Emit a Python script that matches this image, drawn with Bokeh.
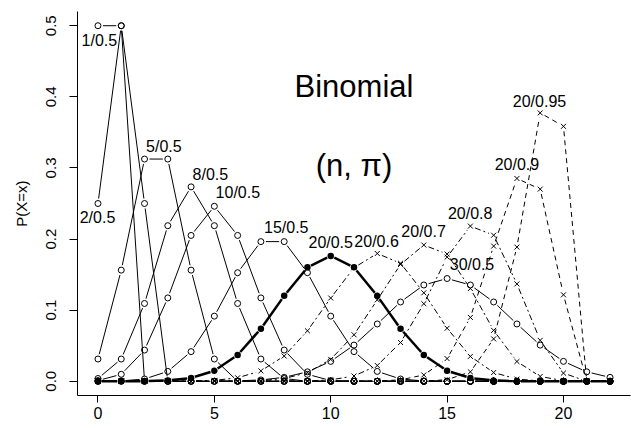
from bokeh.plotting import figure
from bokeh.models import Range1d, FixedTicker, PrintfTickFormatter, ColumnDataSource
from bokeh.core.properties import value
from bokeh.embed import file_html
from bokeh.resources import INLINE
import math

FONT = "Liberation Sans"

# ---------------- data ----------------
x_vals = [0, 1, 2, 3, 4, 5, 6, 7, 8, 9, 10, 11, 12, 13, 14, 15, 16, 17, 18, 19, 20, 21, 22]

b1_05 = [0.5, 0.5, 0, 0, 0, 0, 0, 0, 0, 0, 0, 0, 0, 0, 0, 0, 0, 0, 0, 0, 0, 0, 0]
b2_05 = [0.25, 0.5, 0.25, 0, 0, 0, 0, 0, 0, 0, 0, 0, 0, 0, 0, 0, 0, 0, 0, 0, 0, 0, 0]
b5_05 = [0.0313, 0.1563, 0.3125, 0.3125, 0.1563, 0.0313, 0, 0, 0, 0, 0, 0, 0, 0, 0, 0, 0, 0, 0, 0, 0, 0, 0]
b8_05 = [0.0039, 0.0313, 0.1094, 0.2188, 0.2734, 0.2188, 0.1094, 0.0313, 0.0039, 0, 0, 0, 0, 0, 0, 0, 0, 0, 0, 0, 0, 0, 0]
b10_05 = [0.0010, 0.0098, 0.0439, 0.1172, 0.2051, 0.2461, 0.2051, 0.1172, 0.0439, 0.0098, 0.0010, 0, 0, 0, 0, 0, 0, 0, 0, 0, 0, 0, 0]
b15_05 = [0.0000, 0.0005, 0.0032, 0.0139, 0.0417, 0.0916, 0.1527, 0.1964, 0.1964, 0.1527, 0.0916, 0.0417, 0.0139, 0.0032, 0.0005, 0.0000, 0, 0, 0, 0, 0, 0, 0]
b20_05 = [0, 0, 0.0002, 0.0011, 0.0046, 0.0148, 0.0370, 0.0739, 0.1201, 0.1602, 0.1762, 0.1602, 0.1201, 0.0739, 0.0370, 0.0148, 0.0046, 0.0011, 0.0002, 0, 0, 0, 0]
b30_05 = [0, 0, 0, 0, 0, 0.0001, 0.0006, 0.0019, 0.0055, 0.0133, 0.0280, 0.0509, 0.0806, 0.1115, 0.1354, 0.1445, 0.1354, 0.1115, 0.0806, 0.0509, 0.0280, 0.0133, 0.0055]
b20_06 = [0, 0, 0, 0, 0.0003, 0.0013, 0.0049, 0.0146, 0.0355, 0.0710, 0.1171, 0.1597, 0.1797, 0.1659, 0.1244, 0.0746, 0.0350, 0.0123, 0.0031, 0.0005, 0.0000, 0, 0]
b20_07 = [0, 0, 0, 0, 0, 0, 0.0002, 0.0010, 0.0039, 0.0120, 0.0308, 0.0654, 0.1144, 0.1643, 0.1916, 0.1789, 0.1304, 0.0716, 0.0278, 0.0068, 0.0008, 0, 0]
b20_08 = [0, 0, 0, 0, 0, 0, 0, 0, 0.0001, 0.0005, 0.0020, 0.0074, 0.0222, 0.0545, 0.1091, 0.1746, 0.2182, 0.2054, 0.1369, 0.0576, 0.0115, 0, 0]
b20_09 = [0, 0, 0, 0, 0, 0, 0, 0, 0, 0, 0, 0.0001, 0.0004, 0.0020, 0.0089, 0.0319, 0.0898, 0.1901, 0.2852, 0.2702, 0.1216, 0, 0]
b20_095 = [0, 0, 0, 0, 0, 0, 0, 0, 0, 0, 0, 0, 0, 0, 0.0003, 0.0022, 0.0133, 0.0596, 0.1887, 0.3774, 0.3585, 0, 0]

label_text = ["1/0.5", "2/0.5", "5/0.5", "8/0.5", "10/0.5", "15/0.5", "20/0.5",
              "20/0.6", "20/0.7", "20/0.8", "30/0.5", "20/0.9", "20/0.95"]
label_x = [0.06, -0.02, 2.83, 4.83, 6.01, 8.09, 10.0, 11.97, 13.99, 15.99, 16.07, 18.0, 18.97]
label_y = [0.479, 0.230, 0.330, 0.291, 0.2655, 0.216, 0.195, 0.197, 0.210, 0.236, 0.164, 0.305, 0.394]

x_ticks = [0, 5, 10, 15, 20]
y_ticks = [0.0, 0.1, 0.2, 0.3, 0.4, 0.5]

title_lines = ["Binomial", "(n, \u03c0)"]
title_x = [11.0, 11.0]
title_y = [0.414, 0.303]

# ---------------- figure ----------------
W, H = 631, 428
BL, BR, BT, BB = 77, 1, 11, 33
X0, X1 = -0.88, 22.88
Y0, Y1 = -0.02, 0.52

p = figure(width=W, height=H, output_backend="svg", toolbar_location=None,
           x_range=Range1d(X0, X1), y_range=Range1d(Y0, Y1),
           min_border_left=BL, min_border_right=BR, min_border_top=BT, min_border_bottom=BB)
p.grid.visible = False
p.outline_line_color = None
p.background_fill_color = "white"
p.border_fill_color = "white"

# pixels per data unit (used only to leave the small gaps that "type = b" leaves around points)
sx = (W - BL - BR) / (X1 - X0)
sy = (H - BT - BB) / (Y1 - Y0)


def gapped_segments(xs, ys, gap):
    x0s, y0s, x1s, y1s = [], [], [], []
    for i in range(len(xs) - 1):
        dxp = (xs[i + 1] - xs[i]) * sx
        dyp = (ys[i + 1] - ys[i]) * sy
        L = math.hypot(dxp, dyp)
        if L <= 2 * gap:
            continue
        f = gap / L
        x0s.append(xs[i] + (xs[i + 1] - xs[i]) * f)
        y0s.append(ys[i] + (ys[i + 1] - ys[i]) * f)
        x1s.append(xs[i + 1] - (xs[i + 1] - xs[i]) * f)
        y1s.append(ys[i + 1] - (ys[i + 1] - ys[i]) * f)
    return dict(x0=x0s, y0=y0s, x1=x1s, y1=y1s)


# series: (values, marker, dash)
thin_series = [
    (b1_05, "circle", "solid"),
    (b2_05, "circle", "solid"),
    (b5_05, "circle", "solid"),
    (b8_05, "circle", "solid"),
    (b10_05, "circle", "solid"),
    (b15_05, "circle", "solid"),
    (b30_05, "circle", "solid"),
    (b20_06, "x", "6 3 2 3"),
    (b20_07, "x", "6 3 2 3"),
    (b20_08, "x", "6 3 2 3"),
    (b20_09, "x", "5 4"),
    (b20_095, "x", "5 4"),
]

for vals, mk, dash in thin_series:
    seg = ColumnDataSource(gapped_segments(x_vals, vals, 5.0))
    p.segment("x0", "y0", "x1", "y1", source=seg, line_color="black", line_width=1,
              line_dash=dash)
    src = ColumnDataSource(dict(x=x_vals, y=vals))
    if mk == "circle":
        p.scatter("x", "y", source=src, marker="circle", size=6, fill_alpha=0.0,
                  line_color="black", line_width=1)
    else:
        p.scatter("x", "y", source=src, marker="x", size=7, line_color="black", line_width=1)

seg20 = ColumnDataSource(gapped_segments(x_vals, b20_05, 4.0))
p.segment("x0", "y0", "x1", "y1", source=seg20, line_color="black", line_width=2.5)
src20 = ColumnDataSource(dict(x=x_vals, y=b20_05))
p.scatter("x", "y", source=src20, marker="circle", size=5, fill_color="black",
          line_color="black", line_width=1.5)

# labels
p.text(x=label_x, y=label_y, text=label_text, text_font=value(FONT),
       text_font_size="16px", text_align="center", text_baseline="middle",
       text_color="black")
p.text(x=title_x, y=title_y, text=title_lines, text_font=value(FONT),
       text_font_size="31px", text_align="center", text_baseline="middle",
       text_color="black")

# axes
xa = p.xaxis[0]
xa.ticker = FixedTicker(ticks=x_ticks)
xa.major_tick_out = 7
xa.major_tick_in = 0
xa.minor_tick_line_color = None
xa.major_label_text_font = FONT
xa.major_label_text_font_size = "16px"
xa.major_label_text_color = "black"
xa.major_label_standoff = 4
xa.axis_line_color = "black"
xa.major_tick_line_color = "black"

ya = p.yaxis[0]
ya.ticker = FixedTicker(ticks=y_ticks)
ya.formatter = PrintfTickFormatter(format="%.1f")
ya.major_label_orientation = "vertical"
ya.major_tick_out = 8
ya.major_tick_in = 0
ya.minor_tick_line_color = None
ya.major_label_text_font = FONT
ya.major_label_text_font_size = "15px"
ya.major_label_text_color = "black"
ya.major_label_standoff = 13
ya.axis_label = "P(X=x)"
ya.axis_label_text_font = FONT
ya.axis_label_text_font_size = "15px"
ya.axis_label_text_font_style = "normal"
ya.axis_label_text_color = "black"
ya.axis_label_standoff = 14
ya.axis_line_color = "black"
ya.major_tick_line_color = "black"

open("out.html", "w").write(file_html(p, INLINE))
